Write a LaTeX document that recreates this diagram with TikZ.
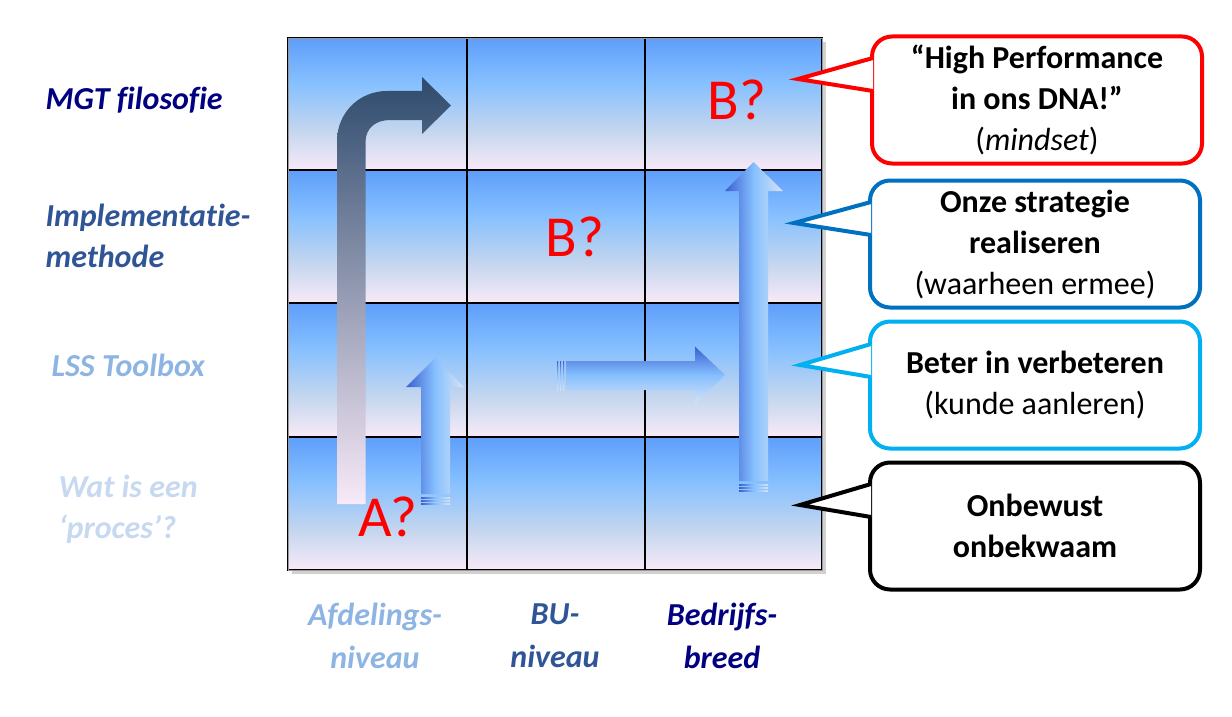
\documentclass[tikz,border=0pt]{standalone}
\usepackage{fontspec}
\setmainfont[Ligatures={NoCommon}]{Carlito}
\definecolor{tb}{HTML}{5E9EFB}
\definecolor{lb}{HTML}{86C0FF}
\definecolor{midc}{HTML}{C4D6EE}
\definecolor{pinkw}{HTML}{F8EAF8}
\definecolor{navy}{HTML}{000080}
\definecolor{steel}{HTML}{2F5597}
\definecolor{lss}{HTML}{8EB4E3}
\definecolor{pale}{HTML}{C6D9F1}
\definecolor{cred}{HTML}{FF0000}
\definecolor{cblue}{HTML}{0070C0}
\definecolor{ccyan}{HTML}{00B0F0}
\definecolor{darkarr}{HTML}{2E4A6C}
\definecolor{arrdark}{HTML}{3B5FCF}
\definecolor{arrlight}{HTML}{D8E2F4}
\pgfdeclareverticalshading{cell}{100bp}{color(0bp)=(pinkw); color(25bp)=(pinkw); color(40bp)=(midc); color(58bp)=(lb); color(75bp)=(tb); color(100bp)=(tb)}
\pgfdeclarehorizontalshading{varr}{100bp}{color(0bp)=(arrdark); color(25bp)=(arrdark); color(50bp)=(lb); color(75bp)=(arrlight); color(100bp)=(arrlight)}
\pgfdeclareverticalshading{harr}{100bp}{color(0bp)=(arrlight); color(25bp)=(arrlight); color(50bp)=(lb); color(75bp)=(arrdark); color(100bp)=(arrdark)}
\tikzset{
  cellbox/.style={shading=cell, draw=black, line width=1.2pt},
  side/.style={font=\fontsize{32}{41}\selectfont\bfseries\itshape, align=left, anchor=west},
  bottomlbl/.style={font=\fontsize{32}{43}\selectfont\bfseries\itshape, align=center},
  qmark/.style={text=cred, font=\fontsize{58}{60}\selectfont},
  callout/.style={draw, line width=4pt, rounded corners=20pt, fill=white, minimum width=330pt, minimum height=127pt, align=center, font=\fontsize{32}{41}\selectfont, text=black},
  vup/.style={shading=varr},
  hright/.style={shading=harr},
}
\begin{document}
\begin{tikzpicture}[x=1pt,y=-1pt]
\useasboundingbox (0,0) rectangle (1232,717);
\fill[black!18] (292,42) rectangle (826,574);
\foreach \x/\xx in {288/467,467/645,645/822}{
  \foreach \y/\yy in {38/170,170/303,303/437,437/570}{
    \path[cellbox] (\x,\y) rectangle (\xx,\yy);
  }
}
\node (grid) at (555,304) [minimum width=534pt, minimum height=532pt, draw=black!40, line width=0.6pt] {};
% bent arrow
\path[top color=darkarr, middle color=lb, bottom color=pinkw]
  (337,504) -- (337,141) .. controls (337,113) and (359,91) .. (387,91)
  -- (422,91) -- (422,77) -- (451,105.5) -- (422,134) -- (422,120) -- (390,120)
  .. controls (376,120) and (365.5,128) .. (365.5,142) -- (365.5,504) -- cycle;
% small up arrow
\path[vup] (421,494) -- (421,387) -- (406,387) -- (435,358) -- (464,387) -- (450,387) -- (450,494) -- cycle;
\foreach \s in {497,500,503}{\path[vup] (421,\s) rectangle (450,\s+1.2);}
% big up arrow
\path[vup] (739,481) -- (739,191) -- (725,191) -- (753.5,162) -- (783,191) -- (768,191) -- (768,481) -- cycle;
\foreach \s in {484,487,490}{\path[vup] (739,\s) rectangle (768,\s+1.2);}
% horizontal arrow
\path[hright] (566,361) -- (695,361) -- (695,346.5) -- (725,375) -- (695,404) -- (695,390) -- (566,390) -- cycle;
\foreach \s in {557,560,563}{\path[hright] (\s,361) rectangle (\s+1.2,390);}
\node[qmark] (b1) at (737,100) {B?};
\node[qmark] (b2) at (575,237) {B?};
\node[qmark] (a1) at (388,517) {A?};
\node[side, text=navy] (mgt) at (42,100) {MGT filosofie};
\node[side, text=steel] (impl) at (42,236) {Implementatie-\\methode};
\node[side, text=lss] (lss) at (48,365) {LSS Toolbox};
\node[side, text=pale] (wat) at (55,509) {Wat is een\\‘proces’?};
\node[bottomlbl, text=lss] (afd) at (375,636) {Afdelings-\\niveau};
\node[bottomlbl, text=steel] (bu) at (555,636) {BU-\\niveau};
\node[bottomlbl, text=navy] (bed) at (722,636) {Bedrijfs-\\breed};
\node[callout, draw=cred] (c1) at (1037,100) {\textbf{“High Performance}\\\textbf{in ons DNA!”}\\(\textit{mindset})};
\coordinate (t1) at (798,79);
\filldraw[cred, line width=4pt, fill=white] ([xshift=3pt]c1.west |- 0,58) -- (t1) -- ([xshift=3pt]c1.west |- 0,91);
\node[callout, draw=cblue] (c2) at (1035,244) {\textbf{Onze strategie}\\\textbf{realiseren}\\(waarheen ermee)};
\coordinate (t2) at (794,223);
\filldraw[cblue, line width=4pt, fill=white] ([xshift=3pt]c2.west |- 0,202) -- (t2) -- ([xshift=3pt]c2.west |- 0,235);
\node[callout, draw=ccyan] (c3) at (1035,385) {\textbf{Beter in verbeteren}\\(kunde aanleren)};
\coordinate (t3) at (800,365);
\filldraw[ccyan, line width=4pt, fill=white] ([xshift=3pt]c3.west |- 0,344) -- (t3) -- ([xshift=3pt]c3.west |- 0,377);
\node[callout, draw=black] (c4) at (1035,526) {\textbf{Onbewust}\\\textbf{onbekwaam}};
\coordinate (t4) at (800,505);
\filldraw[black, line width=4pt, fill=white] ([xshift=3pt]c4.west |- 0,484) -- (t4) -- ([xshift=3pt]c4.west |- 0,517);
\end{tikzpicture}
\end{document}
